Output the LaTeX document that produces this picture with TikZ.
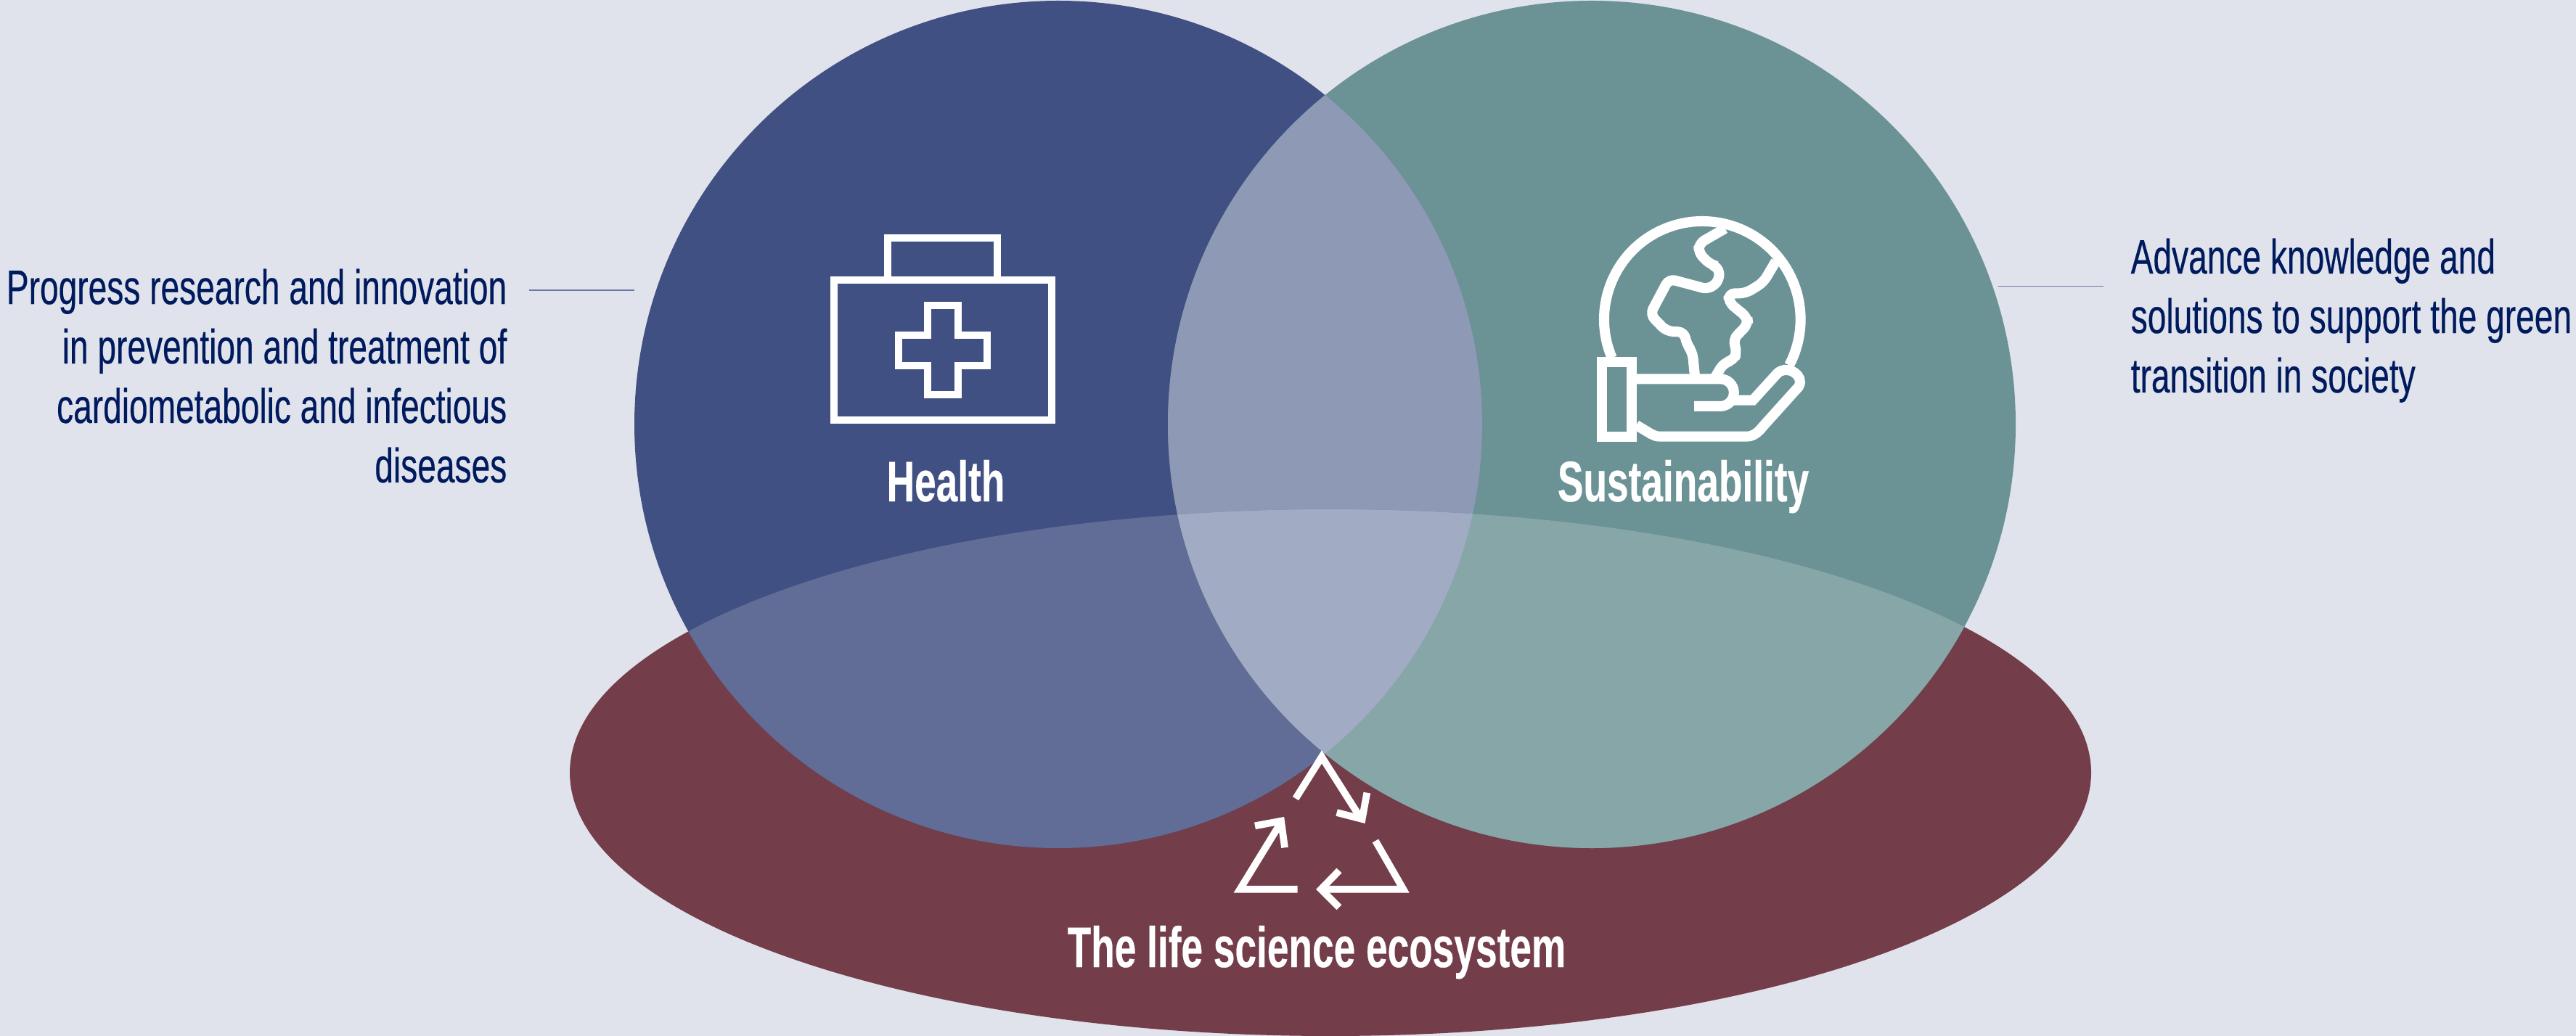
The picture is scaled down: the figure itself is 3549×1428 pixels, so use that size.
\documentclass[tikz,border=0pt]{standalone}
\usepackage{fontspec}
\newfontfamily\agencyfont[FakeStretch=0.69, FakeBold=0.3]{Liberation Sans}
\newfontfamily\agencybold[FakeStretch=0.676, FakeBold=0.3]{Liberation Sans Bold}
\definecolor{pagecolor}{HTML}{E0E3EC}
\definecolor{healthcolor}{HTML}{415082}
\definecolor{greencolor}{HTML}{6B9295}
\definecolor{ecocolor}{HTML}{733E4A}
\definecolor{bothcolor}{HTML}{8E99B5}
\definecolor{healthecocolor}{HTML}{616D96}
\definecolor{greenecocolor}{HTML}{86A6A8}
\definecolor{allcolor}{HTML}{A2ABC4}
\definecolor{textcolor}{HTML}{001A5E}
\definecolor{leadcolor}{HTML}{6B78A8}
\newcommand{\healthshape}{(1458, 585) circle (584)}
\newcommand{\greenshape}{(2193, 585) circle (584)}
\newcommand{\ecoshape}{(1833, 1065) ellipse (1048 and 363)}
\tikzset{
    side text/.style = {inner sep=0pt, text=textcolor, font=\agencyfont\fontsize{19}{23.3}\selectfont},
    area title/.style = {inner sep=0pt, text=white, font=\agencybold\fontsize{22.4}{26}\selectfont},
    lead line/.style = {leadcolor, line width=.15mm},
    case line/.style = {white, line width=1mm},
    globe line/.style = {white, line width=1.4mm},
    cycle line/.style = {white, line width=.97mm}
}
\begin{document}
\begin{tikzpicture}[x=.01cm, y=-.01cm]
        \useasboundingbox (0, 0) rectangle (3549, 1428);
        % draw background
        \fill[pagecolor] (0, 0) rectangle (3549, 1428);
        % draw the three areas
        \fill[ecocolor] \ecoshape;
        \fill[healthcolor] \healthshape;
        \fill[greencolor] \greenshape;
        % draw overlaps
        \begin{scope}
            \clip \healthshape;
            \fill[bothcolor] \greenshape;
            \fill[healthecocolor] \ecoshape;
        \end{scope}
        \begin{scope}
            \clip \greenshape;
            \fill[greenecocolor] \ecoshape;
        \end{scope}
        \begin{scope}
            \clip \healthshape;
            \clip \greenshape;
            \fill[allcolor] \ecoshape;
        \end{scope}
        % draw medical case
        \draw[case line] (1223.3, 386) |- (1374.3, 328.3) -- (1374.3, 386);
        \draw[case line] (1149, 386) rectangle (1449, 579);
        \draw[case line] (1277.7, 421.3) -- (1320.3, 421.3) -- (1320.3, 461.7) -- (1360, 461.7)
            -- (1360, 504) -- (1320.3, 504) -- (1320.3, 544) -- (1277.7, 544) -- (1277.7, 504)
            -- (1238, 504) -- (1238, 461.7) -- (1277.7, 461.7) -- cycle;
        % draw globe and hand
        \begin{scope}[shift={(2150, 270)}, scale=.3333]
            \draw[globe line] (586, 511) ++(157:406) arc [start angle=157, end angle=387.8, radius=406];
            \draw[globe line, rounded corners=2.5pt] (680, 135) -- (572, 197) -- (570, 235) -- (620, 285)
                -- (652, 292) -- (658, 348) -- (612, 387) -- (448, 343) -- (370, 490) -- (438, 560)
                -- (512, 563) -- (520, 612) -- (545, 645) -- (555, 745);
            \draw[globe line, rounded corners=2.5pt] (890, 270) -- (838, 358) -- (765, 403) -- (695, 403)
                -- (695, 440) -- (772, 503) -- (775, 530) -- (712, 595) -- (730, 645) -- (715, 680)
                -- (675, 690) -- (640, 748);
            \draw[globe line] (170, 688) rectangle (293, 997);
            \draw[globe line] (313, 757) -- (660, 757) arc [start angle=-90, end angle=90, radius=56.5] -- (552, 870);
            \draw[globe line] (700, 845) -- (795, 845) -- (895, 735) .. controls (930, 700) and (990, 730) .. (990, 770)
                .. controls (990, 785) and (980, 795) .. (970, 805) -- (835, 955)
                .. controls (815, 980) and (795, 995) .. (770, 995) -- (410, 995)
                .. controls (395, 995) and (385, 990) .. (375, 985) -- (313, 948);
        \end{scope}
        % draw recycling arrows
        \begin{scope}[shift={(1650, 1010)}, scale=.3333]
            \draw[cycle line] (405, 272) -- (513, 100) -- (675, 355);
            \draw[cycle line] (575, 330) -- (680, 357) -- (700, 248);
            \draw[cycle line] (413, 647) -- (175, 647) -- (345, 370);
            \draw[cycle line] (237, 385) -- (345, 365) -- (360, 475);
            \draw[cycle line] (735, 447) -- (850, 647) -- (515, 647);
            \draw[cycle line] (585, 570) -- (510, 647) -- (585, 722);
        \end{scope}
        % draw titles
        \node[area title, anchor=base] (health title) at (1303, 691) {Health};
        \node[area title, anchor=base] (green title) at (2319, 691) {Sustainability};
        \node[area title, anchor=base] (eco title) at (1814, 1333) {The life science ecosystem};
        % draw side texts
        \node[side text, anchor=north east, align=right] (health text) at (699, 370)
            {Progress research and innovation\\in prevention and treatment of\\cardiometabolic and infectious\\diseases};
        \node[side text, anchor=north west, align=left] (green text) at (2935, 328)
            {Advance knowledge and\\solutions to support the green\\transition in society};
        % draw leader lines
        \coordinate (health lead a) at (729, 400);
        \coordinate (health lead b) at (874, 400);
        \coordinate (green lead a) at (2753, 394.7);
        \coordinate (green lead b) at (2898, 394.7);
        \draw[lead line] (health lead a) -- (health lead b);
        \draw[lead line] (green lead a) -- (green lead b);
    \end{tikzpicture}
\end{document}
